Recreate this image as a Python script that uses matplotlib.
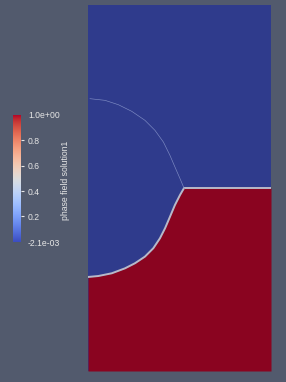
import numpy as np
import matplotlib
matplotlib.use("Agg")
import matplotlib.pyplot as plt
from matplotlib.colors import Normalize
import matplotlib as mpl

# ---- data ----
# lower (sharp) interface between blue (0) and red (1) phases
interface_x = [0.0, 0.002, 0.056, 0.130, 0.202, 0.257, 0.311, 0.357, 0.393,
               0.421, 0.448, 0.475, 0.503, 0.525, 1.0]
interface_y = [0.514, 0.514, 0.519, 0.534, 0.561, 0.589, 0.625, 0.671, 0.725,
               0.780, 0.843, 0.907, 0.962, 1.0, 1.0]
# faint upper contour
upper_x = [0.011, 0.093, 0.166, 0.239, 0.311, 0.366, 0.412, 0.448, 0.475, 0.503, 0.526]
upper_y = [1.488, 1.479, 1.455, 1.419, 1.370, 1.315, 1.251, 1.178, 1.115, 1.051, 0.996]

vmin, vmax = -2.1e-03, 1.0
cbar_ticks = [-2.1e-03, 0.2, 0.4, 0.6, 0.8, 1.0]
cbar_labels = ["-2.1e-03", "0.2", "0.4", "0.6", "0.8", "1.0e+00"]
cbar_title = "phase field solution1"

bg = "#525a6d"
blue = "#2f3b8c"
red = "#8a0420"
txt = "#e6e6e6"

plt.rcParams["font.family"] = ["Liberation Sans", "DejaVu Sans"]

fig = plt.figure(figsize=(2.86, 3.82), dpi=100, facecolor=bg)

W, H = 286, 382
ax = fig.add_axes([88 / W, (H - 371) / H, 183 / W, 366 / H])
ax.set_xlim(0, 1)
ax.set_ylim(0, 2)
ax.set_facecolor(blue)
ax.fill_between(interface_x, 0, interface_y, color=red, lw=0)
ax.plot(interface_x, interface_y, color="#b9b9c8", lw=1.4, solid_capstyle="butt",
        solid_joinstyle="round")
ax.plot(upper_x, upper_y, color="#7f8cc4", lw=0.45, solid_joinstyle="round")
ax.set_xticks([])
ax.set_yticks([])
for s in ax.spines.values():
    s.set_visible(False)

# colorbar
cax = fig.add_axes([13 / W, (H - 242) / H, 8 / W, 127 / H])
cb = mpl.colorbar.ColorbarBase(cax, cmap=plt.get_cmap("coolwarm"),
                               norm=Normalize(vmin=vmin, vmax=vmax),
                               orientation="vertical")
cb.outline.set_visible(False)
cax.yaxis.set_ticks_position("right")
cax.set_yticks(cbar_ticks)
cax.set_yticklabels(cbar_labels)
cax.tick_params(axis="y", colors=txt, labelsize=6.2, length=2.5, width=0.8, pad=2.5)
for i in (0, len(cbar_ticks) - 1):
    t = cax.yaxis.get_major_ticks()[i]
    t.tick2line.set_visible(False)
    t.tick1line.set_visible(False)

fig.text(65 / W, 1 - 180 / H, cbar_title, rotation=90, ha="center", va="center",
         color=txt, fontsize=6.2)

fig.savefig("out.png", dpi=100, facecolor=bg)
